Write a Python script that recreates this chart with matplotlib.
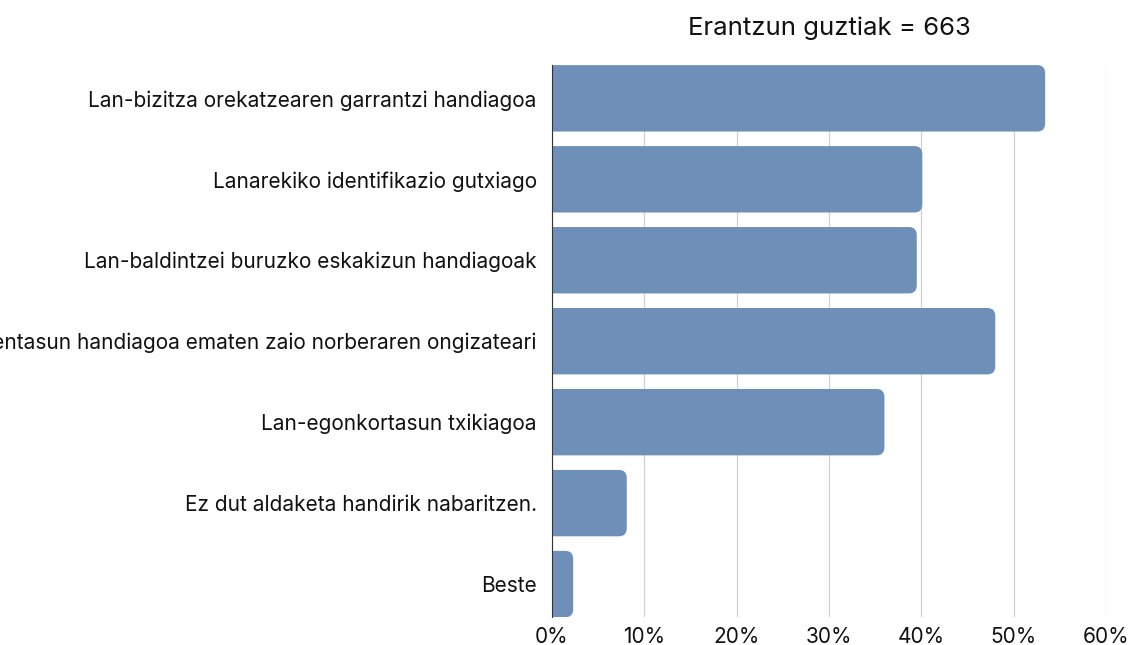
import matplotlib
matplotlib.use("Agg")
import matplotlib.pyplot as plt
from matplotlib.path import Path
from matplotlib.patches import PathPatch
from matplotlib.ticker import FuncFormatter

categories = [
    "Lan-bizitza orekatzearen garrantzi handiagoa",
    "Lanarekiko identifikazio gutxiago",
    "Lan-baldintzei buruzko eskakizun handiagoak",
    "Lehentasun handiagoa ematen zaio norberaren ongizateari",
    "Lan-egonkortasun txikiagoa",
    "Ez dut aldaketa handirik nabaritzen.",
    "Beste",
]
values = [53.4, 40.1, 39.5, 48.0, 36.0, 8.1, 2.3]
xticks = [0, 10, 20, 30, 40, 50, 60]
title = "Erantzun guztiak = 663"

bar_color = "#6d8fb8"
plt.rcParams["font.family"] = ["Inter", "DejaVu Sans"]

fig = plt.figure(figsize=(11.31, 6.45), dpi=100)
ax = fig.add_axes([0.488, 0.043, 0.49, 0.856])

h = 0.82
ypos = list(range(len(categories)))
bars = ax.barh(ypos, values, height=h, color=bar_color)

ax.set_xlim(0, 60)
ax.set_ylim(len(categories) - 1 + h / 2, -h / 2)

# rounded right-hand corners
rx, ry = 0.85, 0.1
for b in bars:
    x0, y0 = b.get_x(), b.get_y()
    w, hh = b.get_width(), b.get_height()
    r = min(rx, w / 2)
    verts = [
        (x0, y0), (x0 + w - r, y0), (x0 + w, y0), (x0 + w, y0 + ry),
        (x0 + w, y0 + hh - ry), (x0 + w, y0 + hh), (x0 + w - r, y0 + hh),
        (x0, y0 + hh), (x0, y0),
    ]
    codes = [Path.MOVETO, Path.LINETO, Path.CURVE3, Path.CURVE3,
             Path.LINETO, Path.CURVE3, Path.CURVE3, Path.LINETO, Path.CLOSEPOLY]
    ax.add_patch(PathPatch(Path(verts, codes), facecolor=bar_color,
                           edgecolor="none", zorder=3))
    b.set_visible(False)

ax.set_xticks(xticks)
ax.xaxis.set_major_formatter(FuncFormatter(lambda v, p: f"{v:.0f}%"))
ax.set_yticks(ypos)
ax.set_yticklabels(categories)
ax.tick_params(axis="both", length=0, labelsize=15, colors="#111111")
ax.tick_params(axis="y", pad=11)
ax.tick_params(axis="x", pad=7)

ax.grid(axis="x", color="#d0d0d0", linewidth=0.9, zorder=0)
ax.set_axisbelow(True)
for s in ["top", "right", "bottom"]:
    ax.spines[s].set_visible(False)
ax.spines["left"].set_color("#333333")
ax.spines["left"].set_linewidth(0.8)
ax.spines["left"].set_zorder(4)

ax.set_title(title, fontsize=18.5, pad=22, color="#111111")

fig.savefig("out.png", dpi=100)
